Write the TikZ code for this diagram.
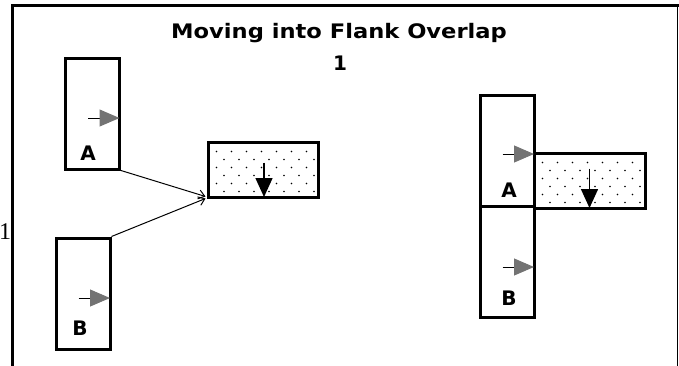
\documentclass[tikz,border=0pt]{standalone}
\usepackage{fontspec}
\setmainfont{DejaVu Sans}
\newfontfamily\seriffont{Liberation Serif}
\usetikzlibrary{arrows.meta,calc}
\tikzset{
  unit/.style={draw, line width=3pt, minimum width=54pt, minimum height=111pt, inner sep=0pt},
  enemy/.style={draw, line width=3pt, minimum width=110pt, minimum height=55pt, inner sep=0pt},
  lbl/.style={font=\fontsize{20}{20}\bfseries\selectfont, inner sep=0pt},
  ttl/.style={font=\fontsize{20}{20}\bfseries\selectfont, inner sep=0pt, xscale=1.13},
  facing/.style={line width=1pt, -{Triangle[length=20pt,width=17pt,color=black!55]}},
  facedown/.style={line width=1.5pt, -{Triangle[length=19pt,width=17pt]}},
  move/.style={line width=1pt, -{Straight Barb[length=6pt,width=9pt]}},
  frame/.style={line width=3pt},
  dot/.style={fill=black}
}
\newcommand{\stipple}[1]{%
  \begin{scope}
    \clip (#1.south west) rectangle (#1.north east);
    \foreach \r in {0,...,6}{
      \foreach \c in {0,...,8}{
        \fill[dot] ($(#1.north west)+({\c*15+10+mod(\r,2)*7.5},{\r*8+11})$) circle (0.8pt);
      }
    }
  \end{scope}}
\begin{document}
\begin{tikzpicture}[x=1pt,y=-1pt]
\useasboundingbox (0,0) rectangle (679,365);
% frame
\draw[frame] (12,366) -- (12,5) -- (679,5);
\draw[line width=1pt] (677,5) -- (677,366);
\node[font=\seriffont\fontsize{24}{24}\selectfont, anchor=west, inner sep=0pt] (stray) at (-1,232) {1};
% title
\node[ttl] (title) at (339,33) {Moving into Flank Overlap};
\node[lbl] (num) at (340,63) {1};
% left group
\node[unit] (A1) at (92.5,113.5) {};
\node[unit] (B1) at (83,293.5) {};
\node[enemy] (D1) at (263,169.5) {};
\stipple{D1}
\node[enemy] at (263,169.5) {};
\node[lbl] (la1) at (88,153) {A};
\node[lbl] (lb1) at (80,328) {B};
\draw[facing] ($(A1.east)+(-33,4.5)$) -- ($(A1.east)+(-1.5,4.5)$);
\draw[facing] ($(B1.east)+(-33,4.5)$) -- ($(B1.east)+(-1.5,4.5)$);
\draw[facedown] ($(D1.center)+(1,-7)$) -- ($(D1.south)+(1,-1.5)$);
\draw[move] (A1.south east) -- ($(D1.south west)+(-1,-2)$);
\draw[move] (B1.north east) -- ($(D1.south west)+(-1,0)$);
% right group
\node[unit] (A2) at (507,151) {};
\node[unit] (B2) at (507,261.5) {};
\node[enemy, minimum width=111pt] (D2) at (589.5,180.5) {};
\stipple{D2}
\node[enemy, minimum width=111pt] at (589.5,180.5) {};
\node[lbl] (la2) at (509,190) {A};
\node[lbl] (lb2) at (509,298) {B};
\draw[facing] ($(A2.east)+(-33,3)$) -- ($(A2.east)+(-1.5,3)$);
\draw[facing] ($(B2.east)+(-33,5.5)$) -- ($(B2.east)+(-1.5,5.5)$);
\draw[facedown] ($(D2.center)+(0,-12)$) -- ($(D2.south)+(0,-1.5)$);
\end{tikzpicture}
\end{document}
